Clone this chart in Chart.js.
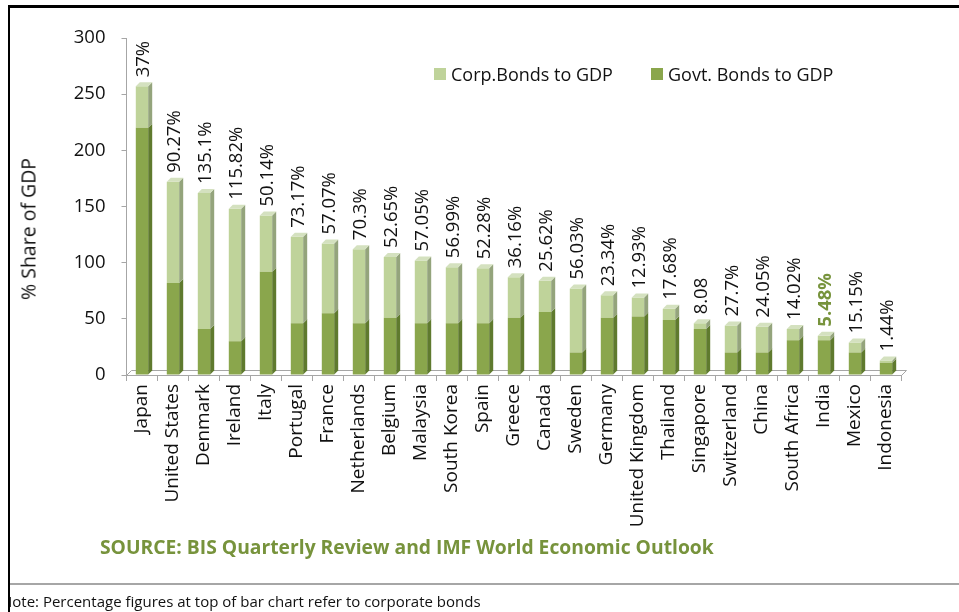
<!DOCTYPE html>
<html>
<head>
<meta charset="utf-8">
<script src="https://cdn.jsdelivr.net/npm/chart.js@4.4.1/dist/chart.umd.min.js"></script>
<style>
  html, body { margin:0; padding:0; background:#fff; }
  body { width:959px; height:612px; position:relative; overflow:hidden; font-family:'Open Sans', sans-serif; }
  #c { position:absolute; left:0; top:0; }
  .ln { position:absolute; }
  .legend { position:absolute; top:62px; font-size:18px; color:#111; white-space:nowrap; }
  .legend i { display:inline-block; width:12px; height:12px; vertical-align:middle; margin-right:5px; position:relative; top:-2px; }
  #ytitle { position:absolute; left:28px; top:229px; transform:translate(-50%,-50%) rotate(-90deg); font-size:19.5px; color:#111; white-space:nowrap; }
  #source { position:absolute; left:100px; top:533px; font-size:19.3px; font-weight:bold; color:#77933c; white-space:nowrap; }
  #note { position:absolute; left:10px; top:591px; width:940px; overflow:hidden; font-size:15px; color:#111; white-space:nowrap; }
  #note span { margin-left:-9px; }
</style>
</head>
<body>
<canvas id="c" width="959" height="612"></canvas>
<div class="ln" style="left:8px;top:5px;width:951px;height:3px;background:#000"></div>
<div class="ln" style="left:8px;top:5px;width:2px;height:607px;background:#000"></div>
<div class="ln" style="left:10px;top:583px;width:949px;height:2px;background:#a6a6a6"></div>
<div id="ytitle">% Share of GDP</div>
<div class="legend" id="lg1" style="left:434px"></div>
<div class="legend" id="lg2" style="left:651px"></div>
<div id="source">SOURCE: BIS Quarterly Review and IMF World Economic Outlook</div>
<div id="note"><span>Note: Percentage figures at top of bar chart refer to corporate bonds</span></div>
<script>
// ---- data ----
const countries = ['Japan','United States','Denmark','Ireland','Italy','Portugal','France','Netherlands',
  'Belgium','Malaysia','South Korea','Spain','Greece','Canada','Sweden','Germany','United Kingdom',
  'Thailand','Singapore','Switzerland','China','South Africa','India','Mexico','Indonesia'];
const govtBonds = [220, 82, 41, 30, 92, 46, 55, 46, 51, 46, 46, 46, 51, 56, 20, 51, 52, 49, 41, 20, 20, 31, 31, 20, 11];
const corpBonds = [37, 90, 121, 118, 50, 77, 62, 66, 54, 56, 50, 49, 36, 28, 57, 20, 17, 10, 5, 24, 23, 10, 4, 9, 2];
const corpLabels = ['37%','90.27%','135.1%','115.82%','50.14%','73.17%','57.07%','70.3%','52.65%','57.05%',
  '56.99%','52.28%','36.16%','25.62%','56.03%','23.34%','12.93%','17.68%','8.08','27.7%','24.05%',
  '14.02%','5.48%','15.15%','1.44%'];
const yTicks = [0, 50, 100, 150, 200, 250, 300];
const seriesNames = ['Govt. Bonds to GDP', 'Corp.Bonds to GDP'];

const FRONT = ['#8aa64c', '#bfd39a'];
const SIDE  = ['#5f7a2e', '#94a47c'];
const CAP   = ['#a3bd67', '#d4e1bf'];
const DEPTH = 4;

// legend (html)
document.getElementById('lg1').innerHTML = '<i style="background:' + FRONT[1] + '"></i>' + seriesNames[1];
document.getElementById('lg2').innerHTML = '<i style="background:' + FRONT[0] + '"></i>' + seriesNames[0];

Chart.defaults.font.family = "'Open Sans', sans-serif";
Chart.defaults.color = '#111';

// 3D side faces, top caps, floor and the rotated percentage labels
const bars3d = {
  id: 'bars3d',
  beforeDatasetsDraw(chart) {
    const { ctx, chartArea: a } = chart;
    ctx.save();
    ctx.strokeStyle = '#a6a6a6';
    ctx.lineWidth = 1;
    ctx.beginPath();
    ctx.moveTo(a.left, a.bottom + 0.5);
    ctx.lineTo(a.left + DEPTH + 1, a.bottom - DEPTH - 0.5);
    ctx.lineTo(a.right + DEPTH + 1, a.bottom - DEPTH - 0.5);
    ctx.lineTo(a.right, a.bottom + 0.5);
    ctx.stroke();
    ctx.restore();
  },
  afterDatasetsDraw(chart) {
    const ctx = chart.ctx;
    const m0 = chart.getDatasetMeta(0).data;
    const m1 = chart.getDatasetMeta(1).data;
    ctx.save();
    countries.forEach((c, i) => {
      const segs = [m0[i], m1[i]];
      segs.forEach((b, k) => {
        if (Math.abs(b.base - b.y) < 0.5) return;
        const r = b.x + b.width / 2;
        ctx.fillStyle = SIDE[k];
        ctx.beginPath();
        ctx.moveTo(r, b.base);
        ctx.lineTo(r, b.y);
        ctx.lineTo(r + DEPTH, b.y - DEPTH);
        ctx.lineTo(r + DEPTH, b.base - DEPTH);
        ctx.closePath();
        ctx.fill();
      });
      const top = corpBonds[i] > 0 ? m1[i] : m0[i];
      const k = corpBonds[i] > 0 ? 1 : 0;
      const l = top.x - top.width / 2, r = top.x + top.width / 2;
      ctx.fillStyle = CAP[k];
      ctx.beginPath();
      ctx.moveTo(l, top.y);
      ctx.lineTo(l + DEPTH, top.y - DEPTH);
      ctx.lineTo(r + DEPTH, top.y - DEPTH);
      ctx.lineTo(r, top.y);
      ctx.closePath();
      ctx.fill();

      // label
      const india = c === 'India';
      ctx.save();
      ctx.translate(top.x + 2, top.y - DEPTH - 5);
      ctx.rotate(-Math.PI / 2);
      ctx.font = (india ? 'bold ' : '') + "18.5px 'Open Sans'";
      ctx.fillStyle = india ? '#77933c' : '#111';
      ctx.textAlign = 'left';
      ctx.textBaseline = 'middle';
      ctx.fillText(corpLabels[i], 0, 0);
      ctx.restore();
    });
    ctx.restore();
  }
};

new Chart(document.getElementById('c'), {
  type: 'bar',
  data: {
    labels: countries,
    datasets: [
      { label: seriesNames[0], data: govtBonds, backgroundColor: FRONT[0], borderWidth: 0 },
      { label: seriesNames[1], data: corpBonds, backgroundColor: FRONT[1], borderWidth: 0 }
    ]
  },
  options: {
    responsive: false,
    animation: false,
    devicePixelRatio: 1,
    layout: { padding: { left: 0, top: 38, right: 57.5, bottom: 0 } },
    datasets: { bar: { categoryPercentage: 1, barPercentage: 0.4 } },
    plugins: { legend: { display: false }, tooltip: { enabled: false } },
    scales: {
      x: {
        stacked: true,
        afterFit(s) { s.height = 612 - 38 - 337; },
        grid: { drawOnChartArea: false, drawTicks: true, tickLength: 6, color: '#a6a6a6' },
        border: { color: '#a6a6a6' },
        ticks: { autoSkip: false, minRotation: 90, maxRotation: 90, padding: 3, color: '#111', font: { size: 19 } }
      },
      y: {
        stacked: true,
        min: 0, max: 300,
        afterFit(s) { s.width = 126.5; },
        afterBuildTicks(s) { s.ticks = yTicks.map(v => ({ value: v })); },
        grid: { drawOnChartArea: false, drawTicks: true, tickLength: 5, color: '#a6a6a6' },
        border: { color: '#a6a6a6' },
        ticks: { padding: 16, color: '#111', font: { size: 18.5 } }
      }
    }
  },
  plugins: [bars3d]
});
</script>
</body>
</html>
